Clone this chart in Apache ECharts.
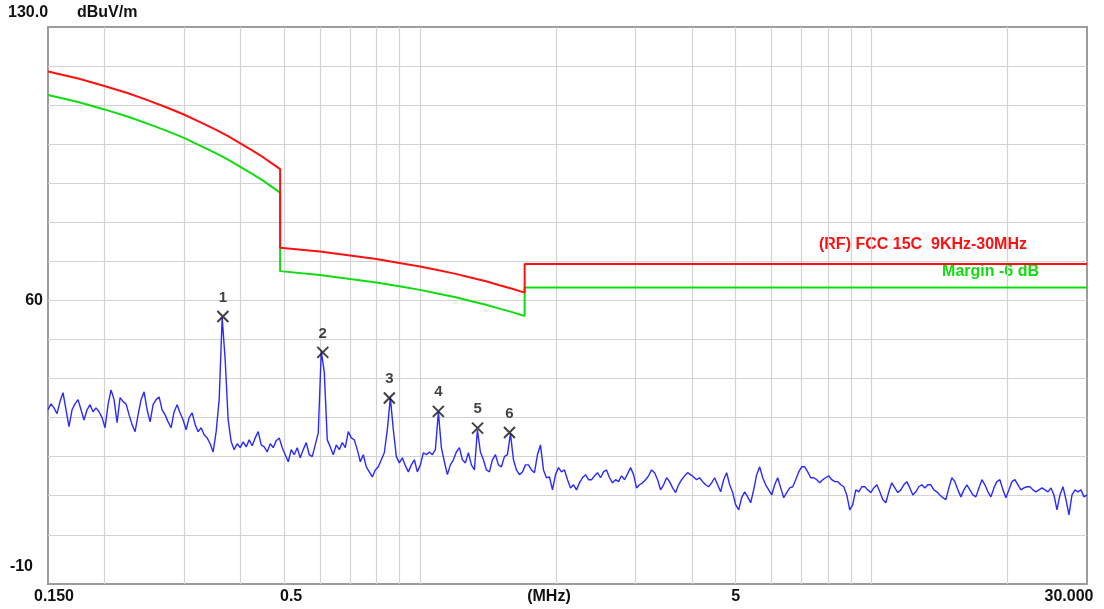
<!DOCTYPE html>
<html><head><meta charset="utf-8">
<script src="https://cdn.jsdelivr.net/npm/echarts@6/dist/echarts.min.js"></script>
<style>html,body{margin:0;padding:0;background:#fff}#c{width:1104px;height:609px}</style>
</head><body><div id="c"></div>
<script>
// ---- data ----
const sweepStartMHz = 0.15;
const sweepStopMHz = 30;
const traceLevels = [
32.0,33.5,32.5,31.0,34.1,36.4,32.0,27.7,32.0,33.5,34.6,32.0,29.4,32.0,33.3,31.5,32.5,31.5,30.0,27.4,
33.3,37.1,34.6,28.7,35.1,34.1,33.5,30.7,28.2,26.4,30.7,34.6,36.6,32.0,28.9,33.3,34.6,35.3,32.0,30.7,
28.9,27.4,31.5,33.3,31.2,29.4,26.9,30.0,31.2,28.2,26.4,27.4,25.6,24.8,23.3,21.2,26.4,34.6,55.6,44.8,
29.4,23.8,21.8,23.3,22.3,23.8,22.5,24.3,22.8,24.8,26.4,23.0,22.5,21.2,23.3,22.3,24.1,24.8,22.3,20.5,
18.7,21.8,20.5,22.3,19.7,21.8,23.6,20.5,20.0,23.0,26.1,46.9,41.7,24.3,22.5,20.5,23.0,21.8,23.6,22.3,
26.4,24.8,24.3,21.8,18.7,20.5,17.4,16.1,14.8,16.6,17.4,19.2,21.0,26.9,35.1,26.9,20.0,18.4,19.7,17.7,
16.1,17.9,19.2,16.1,17.9,21.0,20.5,21.2,20.5,21.8,31.4,22.3,18.7,15.4,17.9,19.2,21.2,22.3,19.2,18.4,
21.0,17.9,16.6,26.8,21.2,19.2,16.6,16.1,19.2,20.5,17.9,17.4,20.0,20.5,25.9,19.2,16.6,15.4,16.1,17.9,
17.9,16.6,15.9,20.5,23.0,16.6,14.6,14.8,11.5,15.4,17.2,16.1,16.6,14.1,12.0,12.8,11.5,13.3,14.6,15.4,
14.1,14.1,15.1,15.9,14.6,16.1,16.6,14.6,13.3,14.1,13.6,15.1,14.1,15.6,17.2,15.4,12.0,12.8,13.3,14.1,
15.1,16.6,15.9,14.1,11.5,12.8,14.6,13.6,12.0,10.8,12.8,14.1,15.1,15.9,15.4,14.8,14.1,14.6,13.6,12.8,
12.3,13.3,14.6,12.8,11.0,14.1,15.9,12.8,10.8,7.7,6.4,9.5,11.0,9.7,8.2,11.5,15.4,17.4,14.6,12.8,
11.5,10.2,12.8,14.6,12.0,9.5,10.8,12.0,12.3,14.1,16.1,17.4,17.4,16.1,14.6,14.6,14.1,13.3,14.1,14.6,
15.1,14.1,13.6,13.6,12.8,12.3,10.2,6.4,7.7,11.5,11.0,12.3,12.3,11.5,10.8,12.0,12.8,11.0,9.0,8.2,
11.0,13.3,12.0,10.8,11.5,12.8,13.6,12.0,10.2,11.0,12.3,12.8,12.0,12.8,12.8,11.5,11.0,10.2,9.5,9.0,
12.0,14.6,13.6,11.5,9.7,11.5,12.8,11.5,10.2,9.7,12.0,14.1,12.8,11.0,9.7,12.0,13.6,14.1,11.5,9.5,
11.5,13.6,14.1,12.8,11.5,12.0,12.3,12.3,11.5,11.0,11.5,12.0,11.5,11.0,12.0,10.2,6.4,10.2,12.3,9.0,
5.1,10.2,11.5,11.0,11.5,9.7,10.2
];
const limitFreq   = [0.15,0.175,0.2,0.225,0.25,0.275,0.3,0.325,0.35,0.375,0.4,0.425,0.45,0.475,0.49,
                     0.49,0.6,0.7,0.8,0.9,1.0,1.1,1.2,1.3,1.4,1.5,1.6,1.705,
                     1.705,30];
const limitLevel  = [118.6,116.8,114.9,113.1,111.2,109.4,107.6,105.7,103.9,102.1,100.2,98.4,96.6,94.7,93.6,
                     73.5,72.5,71.5,70.6,69.6,68.7,67.7,66.8,65.8,64.9,63.9,63.0,62.0,
                     69.3,69.3];
const marginLevel = [112.6,110.8,108.9,107.1,105.2,103.4,101.6,99.7,97.9,96.1,94.2,92.4,90.6,88.7,87.6,
                     67.5,66.5,65.5,64.6,63.6,62.7,61.7,60.8,59.8,58.9,57.9,57.0,56.0,
                     63.3,63.3];
const markerFreq  = [0.366, 0.609, 0.855, 1.098, 1.341, 1.578];
const markerLevel = [55.9, 46.7, 35.0, 31.6, 27.3, 26.2];
const markerLabel = ['1','2','3','4','5','6'];
const xGridMHz = [0.2,0.3,0.4,0.5,0.6,0.7,0.8,0.9,1,2,3,4,5,6,7,8,9,10,20];
const xTickValues = [0.15, 0.5, 1.93, 5, 30];
const xTickLabels = ['0.150','0.5','(MHz)','5','30.000'];
const xTickStyle  = ['a','b','c','c','e'];
const yGrid = [0,10,20,30,40,50,60,70,80,90,100,110,120];
const yTickValues = [60, -10];
const yTickLabels = ['60','-10'];
const yTickStyle  = ['p','q'];
const yTopLabel = '130.0';
const yUnit = 'dBuV/m';
const limitName = '(RF) FCC 15C  9KHz-30MHz';
const marginName = 'Margin -6 dB';

// ---- build ----
const N = traceLevels.length;
const traceData = traceLevels.map((v, k) => [sweepStartMHz * Math.pow(sweepStopMHz / sweepStartMHz, k / (N - 1)), v]);
const limitData = limitFreq.map((f, i) => [f, limitLevel[i]]);
const marginData = limitFreq.map((f, i) => [f, marginLevel[i]]);
const markerData = markerFreq.map((f, i) => [f, markerLevel[i]]);

const FONT = '"Liberation Sans", Arial, sans-serif';
const base = {fontFamily: FONT, fontSize: 16, fontWeight: 'bold', color: '#111'};
function nearestIdx(arr, v, log) {
  let best = 0, bd = Infinity;
  arr.forEach((a, i) => { const d = log ? Math.abs(Math.log(a) - Math.log(v)) : Math.abs(a - v); if (d < bd) { bd = d; best = i; } });
  return best;
}

const chart = echarts.init(document.getElementById('c'), null, {renderer: 'canvas'});
chart.setOption({
  animation: false,
  backgroundColor: '#fff',
  grid: {left: 48, right: 17, top: 27, bottom: 25, show: true, borderColor: '#9c9c9c', borderWidth: 2, backgroundColor: '#fff'},
  xAxis: {
    type: 'log', logBase: 10, min: sweepStartMHz, max: sweepStopMHz,
    axisLine: {show: false},
    axisTick: {show: false, customValues: xGridMHz},
    splitLine: {show: true, lineStyle: {color: '#d3d3d3', width: 1.2}},
    minorSplitLine: {show: false},
    axisLabel: {
      customValues: xTickValues, margin: 5, showMinLabel: true, showMaxLabel: true,
      formatter: v => { const i = nearestIdx(xTickValues, v, true); return '{' + xTickStyle[i] + '|' + xTickLabels[i] + '}'; },
      rich: {
        a: Object.assign({padding: [0, 0, 0, 12]}, base),
        b: Object.assign({padding: [0, 0, 0, 14]}, base),
        c: Object.assign({}, base),
        e: Object.assign({padding: [0, 36, 0, 0]}, base)
      }
    }
  },
  yAxis: {
    type: 'value', min: -12.6, max: 130,
    axisLine: {show: false},
    axisTick: {show: false, customValues: yGrid},
    splitLine: {show: true, lineStyle: {color: '#d3d3d3', width: 1.2}},
    axisLabel: {
      customValues: yTickValues, margin: 5,
      formatter: v => { const i = nearestIdx(yTickValues, v, false); return '{' + yTickStyle[i] + '|' + yTickLabels[i] + '}'; },
      rich: {
        p: Object.assign({}, base),
        q: Object.assign({padding: [0, 10, 14, 0]}, base)
      }
    }
  },
  graphic: [
    {type: 'text', x: 8, y: 13, style: {text: yTopLabel, font: 'bold 16px ' + FONT, fill: '#111', align: 'left', verticalAlign: 'middle'}},
    {type: 'text', x: 77, y: 13, style: {text: yUnit, font: 'bold 16px ' + FONT, fill: '#111', align: 'left', verticalAlign: 'middle'}},
    {type: 'text', x: 1027, y: 245, style: {text: limitName, font: 'bold 16px ' + FONT, fill: '#ff1010', align: 'right', verticalAlign: 'middle'}},
    {type: 'text', x: 1039, y: 272, style: {text: marginName, font: 'bold 16px ' + FONT, fill: '#10dd10', align: 'right', verticalAlign: 'middle'}}
  ],
  series: [
    {type: 'line', data: traceData, showSymbol: false, symbol: 'none', lineStyle: {color: '#2a2aff', width: 1.4}, z: 2},
    {type: 'line', data: marginData, showSymbol: false, symbol: 'none', lineStyle: {color: '#10dd10', width: 2}, z: 3},
    {type: 'line', data: limitData, showSymbol: false, symbol: 'none', lineStyle: {color: '#ff1010', width: 2}, z: 3},
    {type: 'scatter', data: markerData, symbol: 'path://M0,0L12,12M12,0L0,12', symbolSize: 11,
     itemStyle: {color: 'rgba(0,0,0,0)', borderColor: '#111', borderWidth: 2}, z: 5,
     label: {show: true, position: 'top', distance: 5, formatter: p => markerLabel[p.dataIndex],
       fontFamily: FONT, fontSize: 15, fontWeight: 'bold', color: '#111'}}
  ]
});
</script></body></html>
